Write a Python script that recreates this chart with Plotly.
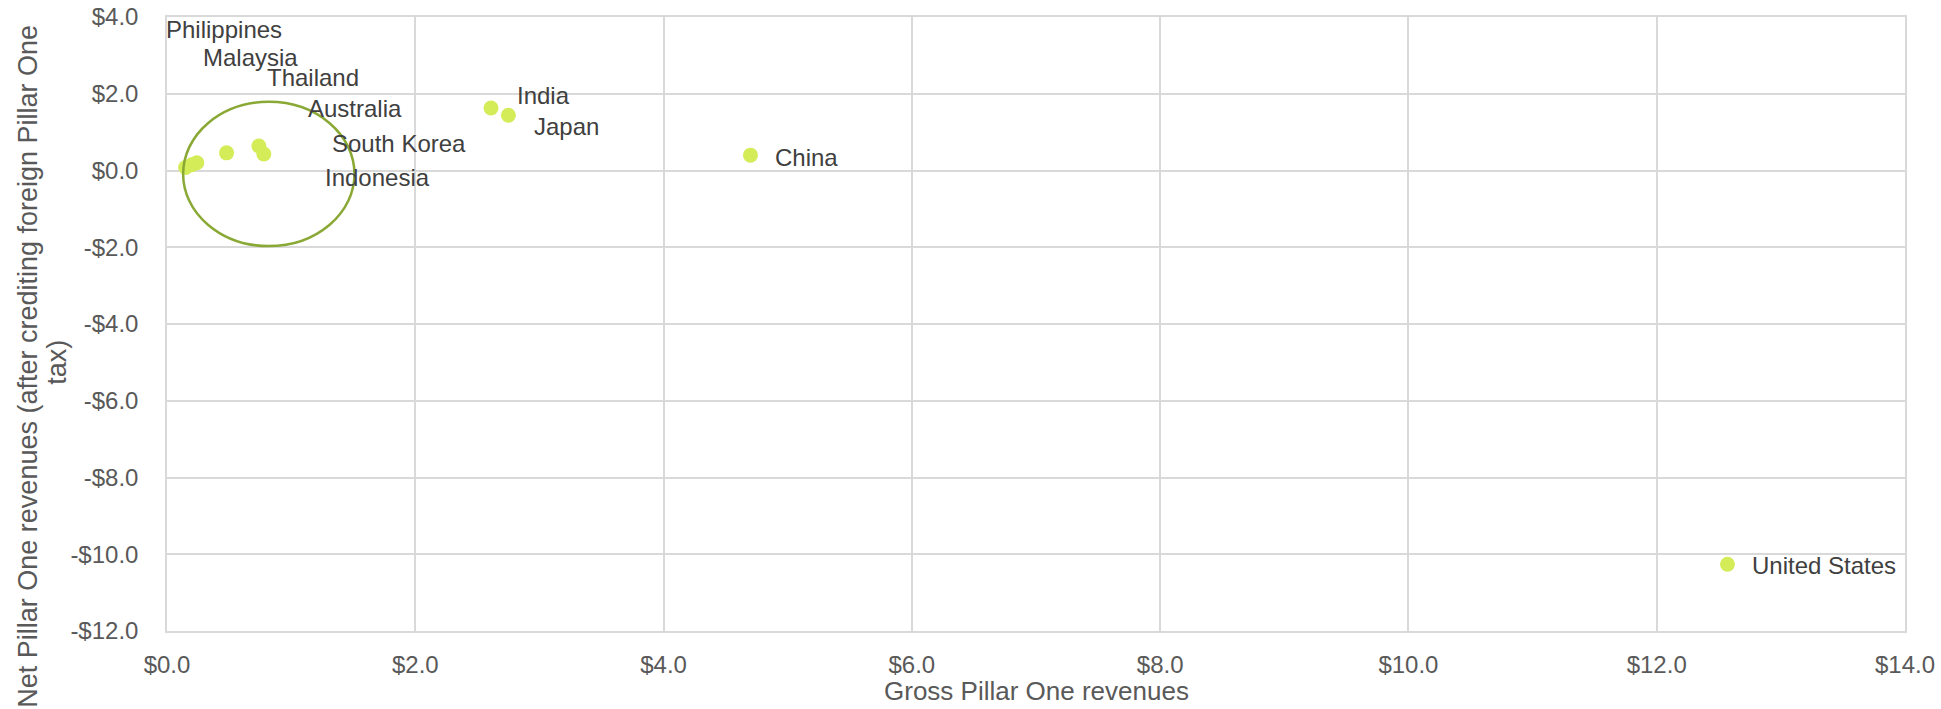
import plotly.graph_objects as go

# ---- data ----
countries = ["Philippines", "Malaysia", "Thailand", "Australia", "South Korea",
             "Indonesia", "India", "Japan", "China", "United States"]
gross = [0.15, 0.20, 0.24, 0.48, 0.74, 0.78, 2.61, 2.75, 4.70, 12.57]
net = [0.08, 0.15, 0.20, 0.46, 0.64, 0.43, 1.63, 1.44, 0.40, -10.26]

x_ticks = [0, 2, 4, 6, 8, 10, 12, 14]
x_ticktext = ["$0.0", "$2.0", "$4.0", "$6.0", "$8.0", "$10.0", "$12.0", "$14.0"]
y_ticks = [4, 2, 0, -2, -4, -6, -8, -10, -12]
y_ticktext = ["$4.0", "$2.0", "$0.0", "-$2.0", "-$4.0", "-$6.0", "-$8.0", "-$10.0", "-$12.0"]

# label offsets in pixels (style/layout, relative to each point)
label_dx = [-22, 9, 68, 79, 71, 59, 24, 24, 23, 23]
label_dy = [138, 107, 85, 44, 2, -23, 12, -11, -2, -1]

FONT = "Liberation Sans, Arial, sans-serif"

fig = go.Figure()
fig.add_trace(go.Scatter(
    x=gross, y=net, mode="markers",
    marker=dict(size=15, color="#d3ec58", line=dict(width=0)),
    hoverinfo="text", text=countries, showlegend=False, cliponaxis=False,
))

annotations = []
for c, gx, ny, dx, dy in zip(countries, gross, net, label_dx, label_dy):
    annotations.append(dict(
        x=gx, y=ny, xref="x", yref="y", text=c, showarrow=False,
        xanchor="left", yanchor="middle", xshift=dx, yshift=dy,
        font=dict(family=FONT, size=24, color="#404040"),
    ))

# axis titles
annotations.append(dict(
    x=0.5, y=-0.097, xref="paper", yref="paper", text="Gross Pillar One revenues",
    showarrow=False, xanchor="center", yanchor="middle",
    font=dict(family=FONT, size=26, color="#595959"),
))
annotations.append(dict(
    x=-0.080, y=0.432, xref="paper", yref="paper",
    text="Net Pillar One revenues (after crediting foreign Pillar One",
    showarrow=False, textangle=-90, xanchor="center", yanchor="middle",
    font=dict(family=FONT, size=27, color="#595959"),
))
annotations.append(dict(
    x=-0.0635, y=0.438, xref="paper", yref="paper", text="tax)",
    showarrow=False, textangle=-90, xanchor="center", yanchor="middle",
    font=dict(family=FONT, size=27, color="#595959"),
))

fig.update_layout(
    width=1941, height=709,
    margin=dict(l=167, r=36, t=17, b=78, autoexpand=False),
    paper_bgcolor="white", plot_bgcolor="white",
    annotations=annotations,
    shapes=[dict(
        type="circle", xref="x", yref="y",
        x0=0.13, x1=1.51, y0=-1.97, y1=1.79,
        line=dict(color="#89a834", width=2.5), fillcolor="rgba(0,0,0,0)",
    )],
    font=dict(family=FONT),
)
fig.update_xaxes(
    range=[0, 14], tickvals=x_ticks, ticktext=x_ticktext, automargin=False,
    showgrid=True, gridcolor="#d9d9d9", gridwidth=1.5,
    showline=True, linecolor="#d9d9d9", linewidth=1.5, mirror=True,
    zeroline=False, ticks="outside", ticklen=11, tickcolor="rgba(0,0,0,0)",
    tickfont=dict(family=FONT, size=24, color="#595959"),
)
fig.update_yaxes(
    range=[-12, 4], tickvals=y_ticks, ticktext=y_ticktext, automargin=False,
    showgrid=True, gridcolor="#d9d9d9", gridwidth=1.5,
    showline=True, linecolor="#d9d9d9", linewidth=1.5, mirror=True,
    zeroline=False, ticks="outside", ticklen=22, tickcolor="rgba(0,0,0,0)",
    tickfont=dict(family=FONT, size=24, color="#595959"),
)

fig.write_html("out.html")
